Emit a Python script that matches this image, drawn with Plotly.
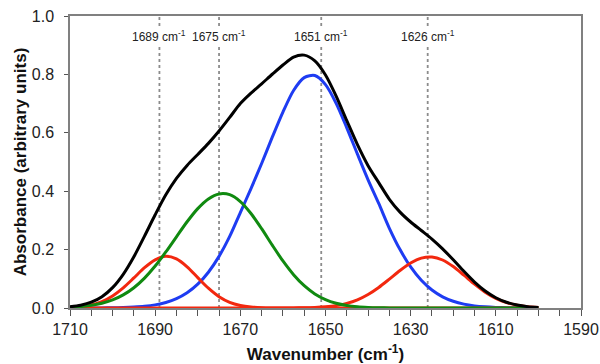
import plotly.graph_objects as go

# Wavenumber sampling (cm-1)
wavenumber = [1710, 1707.5, 1705, 1702.5, 1700, 1697.5, 1695, 1692.5, 1690, 1687.5,
              1685, 1682.5, 1680, 1677.5, 1675, 1672.5, 1670, 1667.5, 1665, 1662.5,
              1660, 1657.5, 1655, 1652.5, 1650, 1647.5, 1645, 1642.5, 1640, 1637.5,
              1635, 1632.5, 1630, 1627.5, 1625, 1622.5, 1620, 1617.5, 1615, 1612.5,
              1610, 1607.5, 1605, 1602.5, 1600]

band_1689 = [0.0017, 0.0046, 0.0106, 0.0221, 0.0413, 0.069, 0.103, 0.138, 0.165, 0.177,
             0.168, 0.141, 0.104, 0.0677, 0.0388, 0.0195, 0.0087, 0.0034, 0.0012, 0.0003,
             0, 0, 0, 0, 0, 0, 0, 0, 0, 0,
             0, 0, 0, 0, 0, 0, 0, 0, 0, 0,
             0, 0, 0, 0, 0]

band_1675 = [0.0024, 0.0048, 0.009, 0.0162, 0.0277, 0.0449, 0.0695, 0.1024, 0.1436, 0.1918,
             0.2439, 0.2953, 0.3404, 0.3736, 0.3905, 0.388, 0.3646, 0.3237, 0.2716, 0.2151,
             0.1611, 0.1141, 0.0763, 0.0482, 0.0288, 0.0162, 0.0087, 0.0044, 0.0021, 0.0009,
             0.0004, 0, 0, 0, 0, 0, 0, 0, 0, 0,
             0, 0, 0, 0, 0]

band_1651 = [0, 0.0001, 0.0002, 0.0003, 0.0007, 0.0015, 0.0031, 0.0058, 0.0107, 0.0189,
             0.032, 0.0521, 0.0815, 0.1225, 0.1768, 0.2451, 0.327, 0.409, 0.495, 0.585,
             0.671, 0.745, 0.789, 0.796, 0.765, 0.701, 0.617, 0.527, 0.439, 0.358,
             0.273, 0.2, 0.1405, 0.0948, 0.0615, 0.0383, 0.023, 0.0132, 0.0073, 0.0039,
             0.002, 0.001, 0.0005, 0.0002, 0.0001]

band_1626 = [0, 0, 0, 0, 0, 0, 0, 0, 0, 0,
             0, 0, 0, 0, 0, 0, 0, 0, 0, 0,
             0.0001, 0.0003, 0.0007, 0.0018, 0.004, 0.0082, 0.0159, 0.0282, 0.0464, 0.0705,
             0.099, 0.1284, 0.154, 0.1707, 0.1747, 0.1644, 0.142, 0.1124, 0.0816, 0.0543,
             0.0332, 0.0186, 0.0096, 0.0045, 0.0019]

spectrum = [0.0041, 0.0095, 0.0198, 0.0386, 0.0697, 0.1154, 0.1756, 0.2462, 0.3193, 0.3877,
            0.4439, 0.4884, 0.5259, 0.5638, 0.6061, 0.6526, 0.7003, 0.7361, 0.7678, 0.8005,
            0.8322, 0.8594, 0.866, 0.846, 0.7978, 0.7254, 0.6416, 0.5596, 0.4875, 0.4294,
            0.3724, 0.3284, 0.2945, 0.2655, 0.2362, 0.2027, 0.165, 0.1256, 0.0889, 0.0582,
            0.0352, 0.0196, 0.0101, 0.0047, 0.002]

marker_positions = [1689, 1675, 1651, 1626]
marker_labels = ["1689 cm<sup>-1</sup>", "1675 cm<sup>-1</sup>",
                 "1651 cm<sup>-1</sup>", "1626 cm<sup>-1</sup>"]

x_ticks = [1710, 1690, 1670, 1650, 1630, 1610, 1590]
y_ticks = [0.0, 0.2, 0.4, 0.6, 0.8, 1.0]

BLUE = "#1e3cf2"
RED = "#f2280f"
GREEN = "#108a10"
FONT = "Liberation Sans, Arial, sans-serif"

fig = go.Figure()

# Vertical dotted marker lines
for xv in marker_positions:
    fig.add_shape(type="line", xref="x", yref="y", x0=xv, x1=xv, y0=0, y1=1.0,
                  line=dict(color="#8c8c8c", width=1.8, dash="dot"), layer="below")

series = [
    (band_1651, BLUE),
    (band_1689, RED),
    (band_1626, RED),
    (band_1675, GREEN),
    (spectrum, "black"),
]
for ys, col in series:
    fig.add_trace(go.Scatter(x=wavenumber, y=ys, mode="lines",
                             line=dict(color=col, width=3, shape="spline", smoothing=0.8),
                             showlegend=False, hoverinfo="skip"))

for xv, lab in zip(marker_positions, marker_labels):
    fig.add_annotation(x=xv, y=0.93, xref="x", yref="y", text=lab, showarrow=False,
                       font=dict(family=FONT, size=12, color="#222"),
                       bgcolor="white", borderpad=1)

fig.update_layout(
    width=600, height=364,
    margin=dict(l=70, r=19, t=16, b=56),
    paper_bgcolor="white", plot_bgcolor="white",
    font=dict(family=FONT, color="#222"),
    xaxis=dict(range=[1710, 1590], tickvals=x_ticks, ticktext=[str(v) for v in x_ticks],
               ticks="outside", ticklen=6, tickwidth=1.2, tickcolor="#555",
               minor=dict(dtick=5, ticks="outside", ticklen=6, tickwidth=1.2, tickcolor="#555"),
               showline=True, linecolor="#808080", linewidth=1.5, mirror=True,
               showgrid=False, zeroline=False, automargin=False,
               tickfont=dict(size=16, family=FONT, color="#222"),
               title=dict(text="<b>Wavenumber (cm<sup>-1</sup>)</b>",
                          font=dict(size=17, family=FONT, color="#111"), standoff=11)),
    yaxis=dict(range=[0, 1.0], tickvals=y_ticks, tickformat=".1f",
               ticks="outside", ticklen=4, tickwidth=1.2, tickcolor="#555",
               showline=True, linecolor="#808080", linewidth=1.5, mirror=True,
               showgrid=False, zeroline=False, ticklabelstandoff=7, automargin=False,
               tickfont=dict(size=16, family=FONT, color="#222"),
               title=dict(text="<b>Absorbance (arbitrary units)</b>",
                          font=dict(size=17, family=FONT, color="#111"), standoff=1)),
    yaxis2=dict(range=[0, 1.0], overlaying="y", side="left", tickvals=y_ticks,
                ticks="inside", ticklen=6, tickwidth=1.2, tickcolor="#555",
                showticklabels=False, showline=False, showgrid=False, zeroline=False,
                automargin=False),
)

# Remove the default page margin so the 600x364 figure fills the window exactly.
fig.write_html("out.html",
               config={"displayModeBar": False},
               post_script="document.body.style.margin='0';"
                           "document.documentElement.style.overflow='hidden';")
